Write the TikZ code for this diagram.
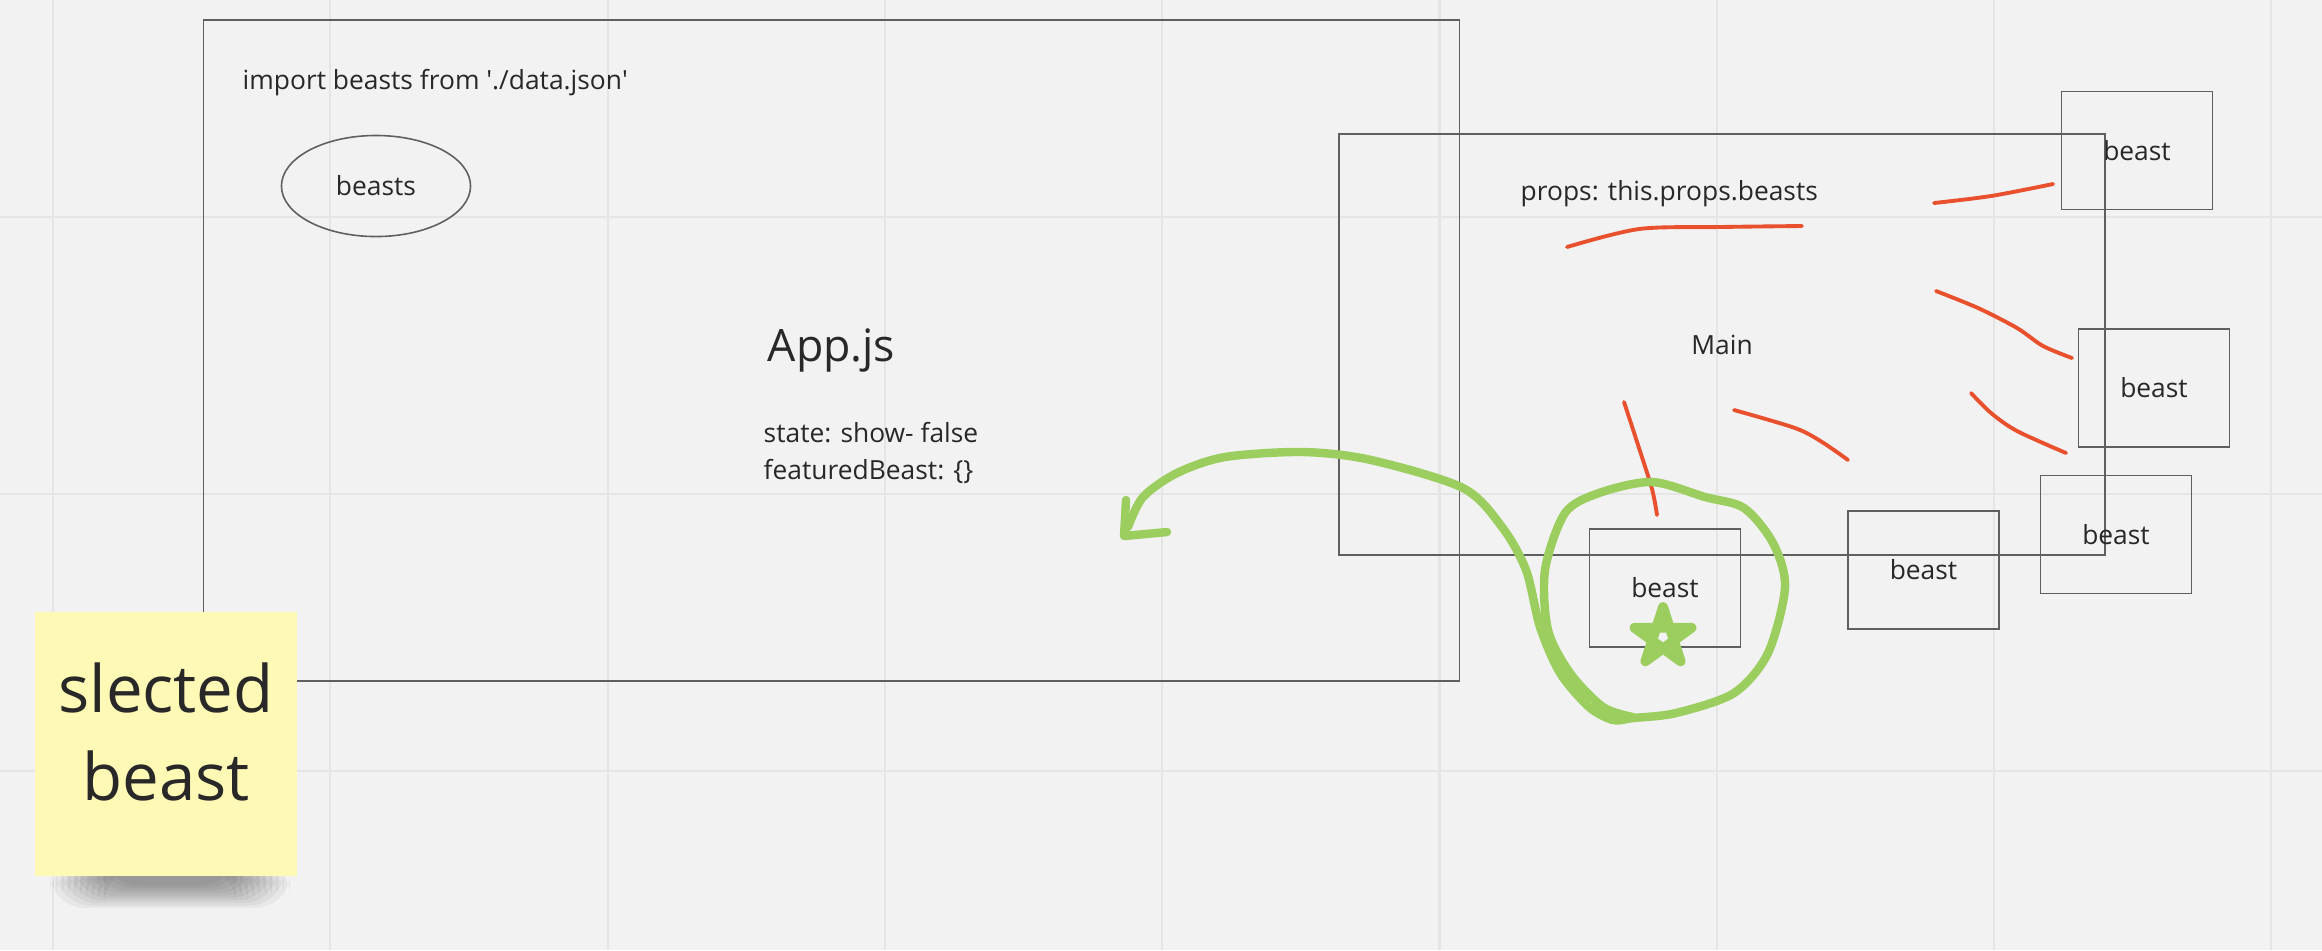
\documentclass[tikz,border=0pt]{standalone}
\usepackage{fontspec}
\setmainfont{Open Sans}
\usetikzlibrary{shapes.geometric}
\definecolor{boardbg}{RGB}{242,242,242}
\definecolor{gridgray}{RGB}{229,229,229}
\definecolor{framegray}{RGB}{95,95,95}
\definecolor{inkgray}{RGB}{40,40,40}
\definecolor{penred}{RGB}{233,80,45}
\definecolor{pengreen}{RGB}{155,206,95}
\definecolor{notey}{RGB}{255,249,182}

\begin{document}
\begin{tikzpicture}[x=0.01cm,y=-0.01cm,
      sketchbox/.style={draw=framegray,line width=.45pt},
      txt/.style={text=inkgray,font=\fontsize{7.5}{9}\selectfont,inner sep=0pt},
      beastbox/.style={sketchbox,txt,minimum width=1.51cm,minimum height=1.18cm},
      redpen/.style={draw=penred,line width=1.1pt,line cap=round,line join=round},
      greenpen/.style={draw=pengreen,line width=2.4pt,line cap=round,line join=round},
      gridline/.style={draw=gridgray,line width=.6pt}
    ]
    \fill[boardbg] (0,0) rectangle (2322,950);
    \useasboundingbox (0,0) rectangle (2322,950);
    \foreach \g in {0,...,8}
      \draw[gridline] (53+277.3*\g,0) -- (53+277.3*\g,950);
    \foreach \g in {217,494,771}
      \draw[gridline] (0,\g) -- (2322,\g);

    \node[sketchbox,txt,font=\fontsize{12.7}{15}\selectfont,
      minimum width=12.55cm,minimum height=6.61cm] (appbox) at (831.5,350.5) {App.js};
    \node[txt,anchor=west] (importtxt) at (242,83)
      {import beasts from \textquotesingle./data.json\textquotesingle};
    \node[sketchbox,txt,ellipse,minimum width=1.89cm,minimum height=1.01cm] (beastsoval) at (376,186) {beasts};
    \node[txt,anchor=west] (statetxt) at (763,433) {state: show- false};
    \node[txt,anchor=west] (feattxt) at (763,471) {featuredBeast: \{\}};

    \node[sketchbox,txt,minimum width=7.66cm,minimum height=4.21cm] (mainbox) at (1722,344.5) {Main};
    \node[txt,anchor=west] (propstxt) at (1520,194) {props: this.props.beasts};

    \node[beastbox] (beastA) at (2137,150.5) {beast};
    \node[beastbox] (beastB) at (2154,388) {beast};
    \node[beastbox] (beastC) at (2116,534.5) {beast};
    \node[beastbox] (beastD) at (1923.5,570) {beast};
    \node[beastbox] (beastE) at (1665,588) {beast};

    \foreach \s in {0,...,9}
      \fill[black,opacity=.045,rounded corners=10pt] (50+6*\s,860+\s) rectangle (290-6*\s,908-2.5*\s);
    \node[fill=notey,minimum width=2.62cm,minimum height=2.64cm,inner sep=0pt] (note) at (166,744) {};
    \node[txt,align=center,font=\fontsize{18.6}{25}\selectfont] (notetxt)
      at ([yshift=.12cm]note.center) {slected\\beast};

    \draw[redpen] plot[smooth] coordinates {(1567,247) (1639,229) (1720,227) (1802,226)};
    \draw[redpen] plot[smooth] coordinates {(1934,203) (1991,196) (2053,184)};
    \draw[redpen] plot[smooth] coordinates {(1936,291) (1978,308) (2017,328) (2043,346) (2072,358)};
    \draw[redpen] plot[smooth] coordinates {(1971,393) (1991,413) (2017,431) (2066,453)};
    \draw[redpen] plot[smooth] coordinates {(1734,410) (1795,428) (1822,442) (1848,460)};
    \draw[redpen] plot[smooth] coordinates {(1624,402) (1639,448) (1652,489) (1657,515)};

    \coordinate (arrowtip) at (1124,536);
    \draw[greenpen] (1126,500) -- (arrowtip) -- (1167,532);
    \draw[greenpen] plot[smooth] coordinates {(1128,527) (1143,497) (1177,473) (1225,457)
      (1303,452) (1371,460) (1463,488) (1502,527) (1526,570) (1540,627) (1560,673)
      (1589,707) (1613,720) (1633,718) (1676,713) (1734,693) (1768,653) (1785,587)
      (1773,543) (1744,508) (1705,497) (1652,482) (1599,493) (1565,513) (1545,570)
      (1548,630) (1570,673) (1603,707) (1633,717)};
    \draw[greenpen,line width=2.8pt,shift={(1663,637)}] (90:.3cm) -- (234:.3cm) -- (18:.3cm)
      -- (162:.3cm) -- (306:.3cm) -- cycle;
  \end{tikzpicture}
\end{document}
